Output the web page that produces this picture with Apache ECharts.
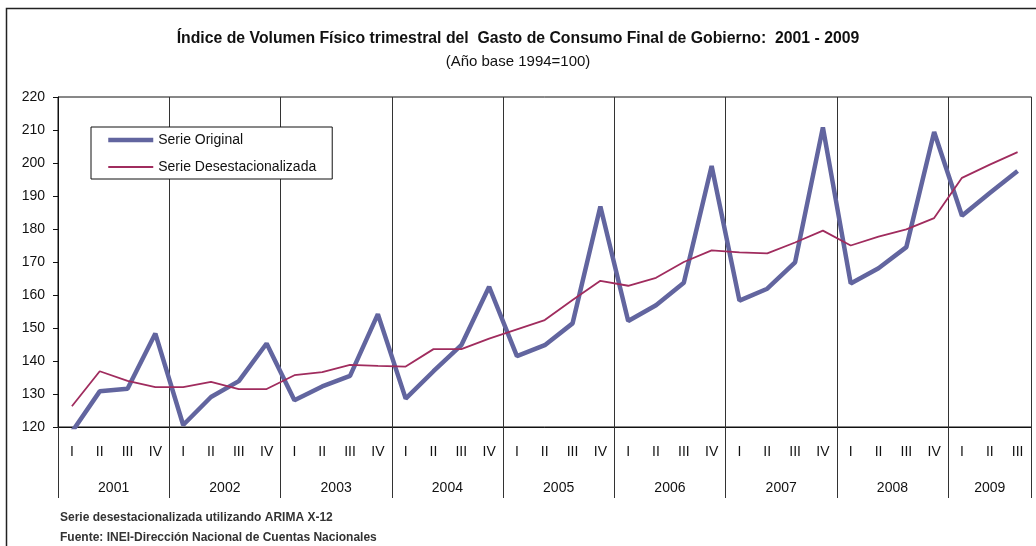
<!DOCTYPE html>
<html>
<head>
<meta charset="utf-8">
<script src="https://cdn.jsdelivr.net/npm/echarts@6/dist/echarts.min.js"></script>
<style>
  html, body { margin: 0; padding: 0; background: #fff; }
  #chart { width: 1036px; height: 546px; }
</style>
</head>
<body>
<div id="chart"></div>
<script>
var years = ['2001', '2002', '2003', '2004', '2005', '2006', '2007', '2008', '2009'];
var quartersPerYear = [4, 4, 4, 4, 4, 4, 4, 4, 3];
var quarterNames = ['I', 'II', 'III', 'IV'];

var serieOriginal = [118.5, 130.8, 131.6, 148.3, 120.6, 129.1, 133.9, 145.3, 128.1, 132.3, 135.5, 154.2,
    128.6, 136.9, 144.8, 162.5, 141.5, 144.8, 151.4, 186.8, 152.1, 156.9, 163.7, 199.1,
    158.3, 161.9, 169.9, 210.8, 163.5, 168.1, 174.5, 209.4, 184.0, 190.9, 197.6];
var serieDesest = [126.3, 136.9, 134.0, 132.1, 132.1, 133.7, 131.5, 131.5, 135.7, 136.6, 138.8, 138.5,
    138.3, 143.6, 143.6, 146.8, 149.6, 152.4, 158.5, 164.3, 162.8, 165.2, 170.0, 173.5,
    172.9, 172.6, 175.9, 179.5, 175.0, 177.7, 179.9, 183.3, 195.5, 199.5, 203.3];

var yMin = 120, yMax = 220, yStep = 10;

var font = "'Liberation Sans Narrow', 'Arial Narrow', 'Liberation Sans', sans-serif";

// quarter labels and a half-quarter axis for the year labels / separators
var quarterLabels = [];
var yearSlots = [];
var yearTicks = {};
var start = 0;
for (var k = 0; k < years.length; k++) {
    for (var q = 0; q < quartersPerYear[k]; q++) quarterLabels.push(quarterNames[q]);
    yearTicks[2 * start] = true;
    start += quartersPerYear[k];
}
yearTicks[2 * start] = true;
for (var j = 0; j <= 2 * start; j++) yearSlots.push('');
start = 0;
for (k = 0; k < years.length; k++) {
    yearSlots[2 * start + quartersPerYear[k]] = years[k];
    start += quartersPerYear[k];
}

var chart = echarts.init(document.getElementById('chart'));
var option = {
    backgroundColor: '#fff',
    animation: false,
    textStyle: { fontFamily: font },
    graphic: [{
        type: 'rect',
        shape: { x: 6.5, y: 8.5, width: 1100, height: 600 },
        style: { fill: 'none', stroke: '#222', lineWidth: 1.5 },
        silent: true
    }],
    title: [{
        text: 'Índice de Volumen Físico trimestral del  Gasto de Consumo Final de Gobierno:  2001 - 2009',
        left: 'center',
        top: 26,
        textStyle: { fontFamily: font, fontSize: 15.8, fontWeight: 'bold', color: '#111' }
    }, {
        text: '(Año base 1994=100)',
        left: 'center',
        top: 49,
        textStyle: { fontFamily: font, fontSize: 15, fontWeight: 'normal', color: '#111' }
    }, {
        text: 'Serie desestacionalizada utilizando ARIMA X-12\nFuente: INEI-Dirección Nacional de Cuentas Nacionales',
        left: 60,
        top: 508,
        padding: 0,
        textStyle: { fontFamily: font, fontSize: 12, fontWeight: 'bold', color: '#333', lineHeight: 20 }
    }],
    legend: {
        orient: 'vertical',
        left: 91,
        top: 127,
        padding: [6, 16, 5, 15],
        backgroundColor: '#fff',
        borderColor: '#111',
        borderWidth: 1,
        itemWidth: 45,
        itemHeight: 14,
        itemGap: 13,
        itemStyle: { opacity: 0 },
        textStyle: { fontFamily: font, fontSize: 14, color: '#111' },
        data: [
            { name: 'Serie Original', lineStyle: { width: 4.5 } },
            { name: 'Serie Desestacionalizada', lineStyle: { width: 1.8 } }
        ]
    },
    grid: {
        left: 58,
        right: 4.5,
        top: 97,
        bottom: 119,
        show: true,
        borderColor: '#111',
        borderWidth: 1
    },
    xAxis: [{
        type: 'category',
        data: quarterLabels,
        boundaryGap: true,
        position: 'bottom',
        axisLine: { lineStyle: { color: '#111', width: 1 } },
        axisTick: { show: false },
        axisLabel: { interval: 0, margin: 18, fontSize: 14, color: '#111', fontFamily: font },
        splitLine: {
            show: true,
            interval: function (i) { return i % 4 === 0; },
            lineStyle: { color: '#333', width: 1 }
        }
    }, {
        type: 'category',
        data: yearSlots,
        boundaryGap: false,
        position: 'bottom',
        axisLine: { show: false },
        axisTick: {
            show: true,
            length: 71,
            interval: function (i) { return !!yearTicks[i]; },
            lineStyle: { color: '#333', width: 1 }
        },
        axisLabel: {
            interval: function (i, v) { return v !== ''; },
            margin: 54,
            fontSize: 14,
            color: '#111',
            fontFamily: font
        },
        splitLine: { show: false }
    }],
    yAxis: {
        type: 'value',
        min: yMin,
        max: yMax,
        interval: yStep,
        axisLine: { show: true, lineStyle: { color: '#111', width: 1 } },
        axisTick: { show: true, length: 5, lineStyle: { color: '#111' } },
        axisLabel: { margin: 13, fontSize: 14, color: '#111', fontFamily: font },
        splitLine: { show: false }
    },
    series: [{
        name: 'Serie Original',
        type: 'line',
        xAxisIndex: 0,
        data: serieOriginal,
        symbol: 'none',
        color: '#62659f',
        lineStyle: { color: '#62659f', width: 4.5 },
        z: 2
    }, {
        name: 'Serie Desestacionalizada',
        type: 'line',
        xAxisIndex: 0,
        data: serieDesest,
        symbol: 'none',
        color: '#a02c5e',
        lineStyle: { color: '#a02c5e', width: 1.8 },
        z: 3
    }]
};
option && chart.setOption(option);
</script>
</body>
</html>
